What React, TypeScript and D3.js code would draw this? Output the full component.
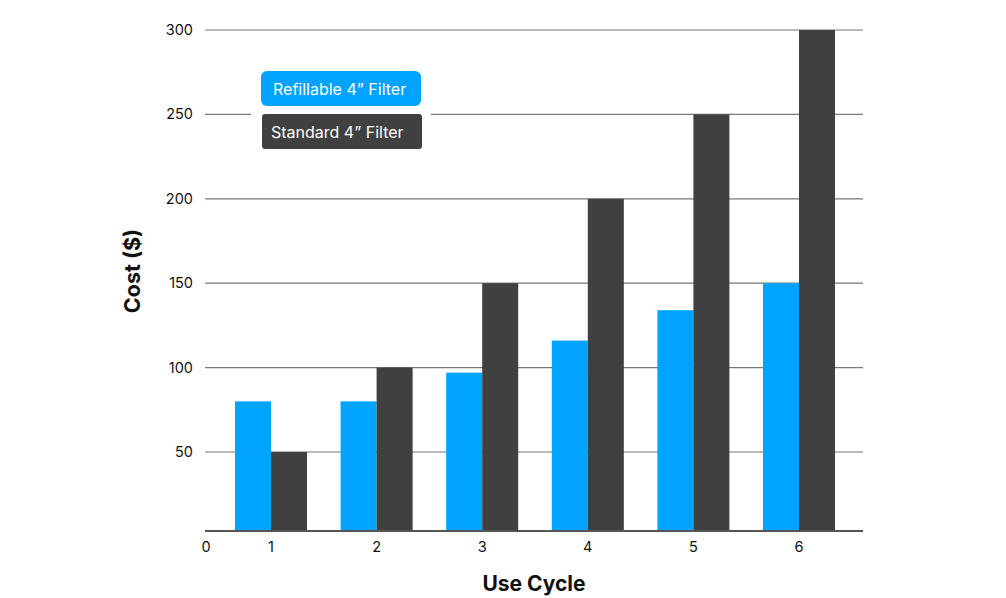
import React from "react";
import * as d3 from "d3";

const categories = ["1", "2", "3", "4", "5", "6"];
const refillable = [80, 80, 97, 116, 134, 150];
const standard = [50, 100, 150, 200, 250, 300];
const yTicks = [50, 100, 150, 200, 250, 300];
const seriesNames = ["Refillable 4\u201D Filter", "Standard 4\u201D Filter"];
const colors = ["#00A3FF", "#404040"];

export default function App() {
  const W = 1006, H = 598;
  const font = "Inter, 'Noto Sans', sans-serif";
  const gridLeft = 205, gridRight = 863;
  const axisY = 531;
  const y = d3.scaleLinear().domain([0, 300]).range([536.4, 30]);
  const x = d3.scaleBand().domain(categories).range([235, 835]).paddingInner(0.318).paddingOuter(0);
  const sub = d3.scaleBand().domain(["r", "s"]).range([0, x.bandwidth()]);
  const series = [refillable, standard];
  return (
    <svg width={W} height={H} style={{ position: "absolute", left: 0, top: 0 }} fontFamily={font}>
      <rect width={W} height={H} fill="#fff" />
      {yTicks.map((t) => (
        <g key={t}>
          <line x1={gridLeft} x2={gridRight} y1={y(t)} y2={y(t)} stroke="#777" strokeWidth={1.2} />
          <text x={193} y={y(t)} dy="0.35em" textAnchor="end" fontSize={14.5} fill="#111">{t}</text>
        </g>
      ))}
      <text x={206} y={547} dy="0.35em" textAnchor="middle" fontSize={14.5} fill="#111">0</text>
      {categories.map((c, i) => (
        <g key={c}>
          {series.map((s, j) => (
            <rect key={j} x={(x(c) as number) + (sub(j === 0 ? "r" : "s") as number)} y={y(s[i])}
              width={sub.bandwidth()} height={axisY - y(s[i])} fill={colors[j]} />
          ))}
          <text x={(x(c) as number) + x.bandwidth() / 2} y={547} dy="0.35em" textAnchor="middle" fontSize={14.5} fill="#111">{c}</text>
        </g>
      ))}
      <line x1={gridLeft} x2={gridRight} y1={axisY} y2={axisY} stroke="#555" strokeWidth={2} />
      <text transform={`translate(140,271) rotate(-90)`} textAnchor="middle" fontSize={21.5} fontWeight="bold" fill="#111">Cost ($)</text>
      <text x={534} y={591} textAnchor="middle" fontSize={21} fontWeight="bold" fill="#111">Use Cycle</text>
      <g>
        <rect x={251} y={66} width={180} height={90} fill="#fff" />
        <rect x={261} y={71} width={160} height={35} rx={6} fill={colors[0]} />
        <text x={273} y={89} dy="0.35em" fontSize={16} fill="#fff">{seriesNames[0]}</text>
        <rect x={262} y={114} width={160} height={35} rx={3} fill={colors[1]} />
        <text x={271} y={132} dy="0.35em" fontSize={16} fill="#fff">{seriesNames[1]}</text>
      </g>
    </svg>
  );
}
